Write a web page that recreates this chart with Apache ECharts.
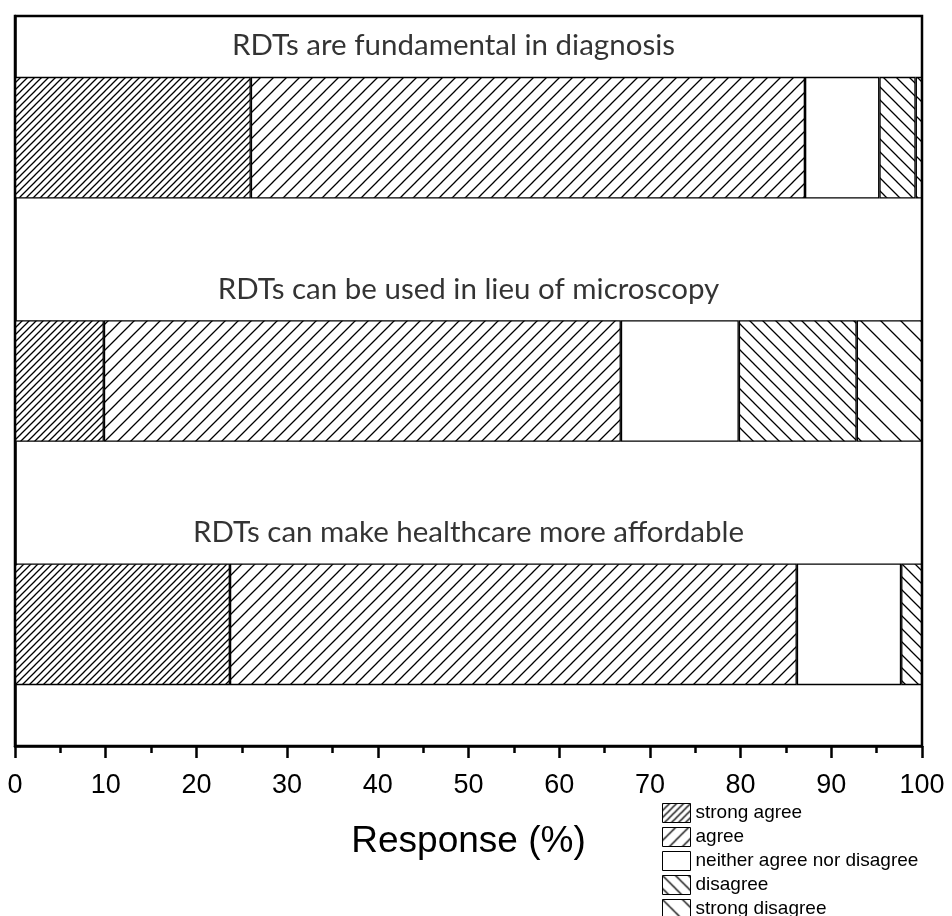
<!DOCTYPE html>
<html>
<head>
<meta charset="utf-8">
<script src="https://cdn.jsdelivr.net/npm/echarts@6/dist/echarts.min.js"></script>
<style>html,body{margin:0;padding:0;background:#fff}#c{width:952px;height:916px}</style>
</head>
<body>
<div id="c"></div>
<script>
const statements = ['RDTs are fundamental in diagnosis', 'RDTs can be used in lieu of microscopy', 'RDTs can make healthcare more affordable'];
const seriesNames = ['strong agree', 'agree', 'neither agree nor disagree', 'disagree', 'strong disagree'];
const strongAgree = [26.0, 9.8, 23.7];
const agree = [61.1, 57.0, 62.5];
const neither = [8.2, 13.0, 11.5];
const disagree = [4.0, 13.0, 2.3];
const strongDisagree = [0.7, 7.2, 0.0];
const xTicks = [0, 10, 20, 30, 40, 50, 60, 70, 80, 90, 100];

function hatch(spacing, dir) {
  const c = document.createElement('canvas');
  c.width = spacing; c.height = spacing;
  const g = c.getContext('2d');
  g.fillStyle = '#fff'; g.fillRect(0, 0, spacing, spacing);
  g.strokeStyle = '#000'; g.lineWidth = 1.3;
  g.beginPath();
  const s = spacing;
  if (dir === '/') {
    g.moveTo(-1, s + 1); g.lineTo(s + 1, -1);
    g.moveTo(-1, 1); g.lineTo(1, -1);
    g.moveTo(s - 1, s + 1); g.lineTo(s + 1, s - 1);
  } else {
    g.moveTo(-1, -1); g.lineTo(s + 1, s + 1);
    g.moveTo(s - 1, -1); g.lineTo(s + 1, 1);
    g.moveTo(-1, s - 1); g.lineTo(1, s + 1);
  }
  g.stroke();
  return { image: c, repeat: 'repeat' };
}

const fills = [hatch(7, '/'), hatch(13, '/'), '#ffffff', hatch(13, '\\'), hatch(20, '\\')];
const values = [strongAgree, agree, neither, disagree, strongDisagree];

const series = seriesNames.map((n, i) => ({
  name: n,
  type: 'bar',
  stack: 'total',
  barWidth: '50%',
  data: values[i],
  itemStyle: { color: fills[i], borderColor: '#000', borderWidth: 1.3 },
  emphasis: { disabled: true },
  silent: true
}));

const labelShift = [-15, 0, 0];
series.push({
  type: 'scatter',
  symbolSize: 0,
  silent: true,
  data: statements.map((s, i) => ({ value: [50, s], label: { offset: [labelShift[i], -92] } })),
  label: {
    show: true,
    position: 'inside',
    offset: [0, -92],
    formatter: p => p.value[1],
    color: '#000',
    fontFamily: 'Lato, "Open Sans", sans-serif',
    fontSize: 29.5
  }
});

const chart = echarts.init(document.getElementById('c'), null, { renderer: 'canvas' });
chart.setOption({
  animation: false,
  backgroundColor: '#fff',
  grid: { left: 15, right: 30, top: 16, bottom: 170, show: true, borderColor: '#000', borderWidth: 2.5, containLabel: false },
  legend: {
    orient: 'vertical',
    left: 662, top: 803,
    height: 200,
    padding: 0,
    icon: 'rect',
    itemWidth: 28, itemHeight: 19, itemGap: 4,
    data: seriesNames,
    selectedMode: false,
    itemStyle: { borderColor: '#000', borderWidth: 1 },
    textStyle: { fontFamily: '"Liberation Sans", Arial, sans-serif', fontSize: 19, color: '#000' }
  },
  xAxis: {
    type: 'value',
    min: 0, max: 100, interval: 10,
    name: 'Response (%)',
    nameLocation: 'middle',
    nameGap: 77,
    nameTextStyle: { fontFamily: '"Liberation Sans", Arial, sans-serif', fontSize: 37, color: '#000' },
    axisLine: { show: true, lineStyle: { color: '#000', width: 2.5 } },
    axisTick: { show: true, inside: false, length: 12, lineStyle: { color: '#000', width: 2.5 } },
    minorTick: { show: true, splitNumber: 2, length: 7, lineStyle: { color: '#000', width: 2.5 } },
    splitLine: { show: false },
    axisLabel: {
      margin: 26,
      fontFamily: '"Liberation Sans", Arial, sans-serif', fontSize: 27, color: '#000',
      formatter: v => xTicks.includes(v) ? String(v) : ''
    }
  },
  yAxis: {
    type: 'category',
    data: statements,
    inverse: true,
    axisLine: { show: true, lineStyle: { color: '#000', width: 2.5 } },
    axisTick: { show: false },
    axisLabel: { show: false },
    splitLine: { show: false }
  },
  series: series
});
</script>
</body>
</html>
